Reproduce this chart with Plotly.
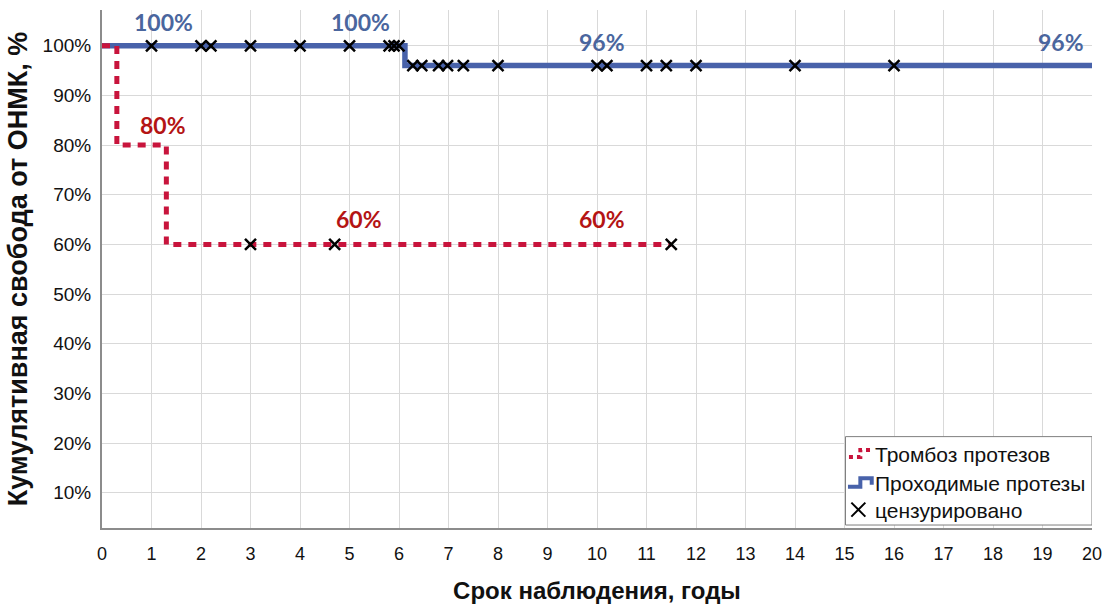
import plotly.graph_objects as go

# Kaplan–Meier step curves (time in years, survival in %)
patent_times = [0, 6.12, 20]
patent_surv = [100, 96, 96]
thromb_times = [0, 0.3, 1.3, 11.5]
thromb_surv = [100, 80, 60, 60]

# censored observations
patent_censored = [1.0, 2.0, 2.2, 3.0, 4.0, 5.0, 5.8, 5.9, 6.0,
                   6.28, 6.46, 6.8, 6.98, 7.3, 8.0, 10.0, 10.2, 11.0, 11.4, 12.0, 14.0, 16.0]
thromb_censored = [3.0, 4.7, 11.5]

# value labels: (x position, curve value)
patent_labels = [(1.25, 100), (5.22, 100), (10.1, 96), (19.38, 96)]
thromb_labels = [(1.23, 80), (5.2, 60), (10.1, 60)]

x_ticks = list(range(0, 21))
y_ticks = list(range(10, 101, 10))

BLUE = "#4862aa"
BLUE_TXT = "#4a669e"
RED = "#c8143c"
RED_TXT = "#b41414"


def step_value(times, surv, t):
    v = surv[0]
    for ti, si in zip(times, surv):
        if t >= ti:
            v = si
    return v


fig = go.Figure()

fig.add_trace(go.Scatter(x=patent_times, y=patent_surv, mode="lines", line_shape="hv",
                         line=dict(color=BLUE, width=5.5), showlegend=False))
fig.add_trace(go.Scatter(x=thromb_times, y=thromb_surv, mode="lines", line_shape="hv",
                         line=dict(color=RED, width=5, dash="8px,7px"), showlegend=False))

cx = patent_censored + thromb_censored
cy = [step_value(patent_times, patent_surv, t) for t in patent_censored] + \
     [step_value(thromb_times, thromb_surv, t) for t in thromb_censored]
fig.add_trace(go.Scatter(x=cx, y=cy, mode="markers",
                         marker=dict(symbol="x-thin-open", size=11, color="black",
                                     line=dict(color="black", width=2.5)),
                         showlegend=False))

annotations = []
for x, v in patent_labels:
    annotations.append(dict(x=x, y=v, text=f"<b>{v}%</b>", showarrow=False, yshift=24,
                            font=dict(family="Lato", size=23, color=BLUE_TXT)))
for x, v in thromb_labels:
    annotations.append(dict(x=x, y=v, text=f"<b>{v}%</b>", showarrow=False,
                            yshift=20 if v == 80 else 25,
                            font=dict(family="Lato", size=23, color=RED_TXT)))

# legend box drawn in data coordinates
shapes = [dict(type="rect", x0=15.02, x1=20.0, y0=3.5, y1=21.3,
               line=dict(color="#7f7f7f", width=1), fillcolor="white", layer="between")]
legend_rows = [("Тромбоз протезов", 17.8), ("Проходимые протезы", 11.9), ("цензурировано", 6.5)]
for label, y in legend_rows:
    annotations.append(dict(x=15.58, y=y, text=label, showarrow=False, xanchor="left",
                            font=dict(family="Liberation Sans", size=21, color="#111")))
# legend icons
fig.add_trace(go.Scatter(x=[15.09, 15.32, 15.32, 15.55], y=[17.2, 17.2, 18.6, 18.6],
                         mode="lines", line=dict(color=RED, width=4, dash="4px,4px"),
                         showlegend=False, cliponaxis=False))
fig.add_trace(go.Scatter(x=[15.07, 15.32, 15.32, 15.55, 15.55], y=[11.2, 11.2, 12.9, 12.9, 11.6],
                         mode="lines", line=dict(color=BLUE, width=4),
                         showlegend=False, cliponaxis=False))
fig.add_trace(go.Scatter(x=[15.28], y=[6.6], mode="markers",
                         marker=dict(symbol="x-thin-open", size=14, color="black",
                                     line=dict(color="black", width=2)),
                         showlegend=False, cliponaxis=False))

fig.update_layout(
    width=1113, height=610,
    margin=dict(l=102, r=21, t=10, b=75),
    paper_bgcolor="white", plot_bgcolor="white",
    shapes=shapes, annotations=annotations,
    font=dict(family="Liberation Sans", color="#111"),
)
fig.update_xaxes(range=[0, 20], tickvals=x_ticks, ticktext=[str(t) for t in x_ticks],
                 showgrid=True, gridcolor="#d9d9d9", gridwidth=1,
                 showline=True, linecolor="#8c8c8c", linewidth=2, zeroline=False,
                 ticks="", ticklabelstandoff=8,
                 tickfont=dict(family="Liberation Sans Narrow, Liberation Sans", size=18),
                 title=dict(text="<b>Срок наблюдения, годы</b>", standoff=20,
                            font=dict(family="Liberation Sans Narrow, Liberation Sans", size=24)))
fig.update_yaxes(range=[2.9, 107.2], tickvals=y_ticks, ticktext=[f"{t}%" for t in y_ticks],
                 showgrid=True, gridcolor="#d9d9d9", gridwidth=1,
                 showline=True, linecolor="#8c8c8c", linewidth=2, zeroline=False,
                 ticks="", ticklabelstandoff=5,
                 tickfont=dict(family="Liberation Sans", size=19),
                 title=dict(text="<b>Кумулятивная свобода от ОНМК, %</b>", standoff=7,
                            font=dict(family="Liberation Sans", size=27)))

fig.write_html("out.html")
